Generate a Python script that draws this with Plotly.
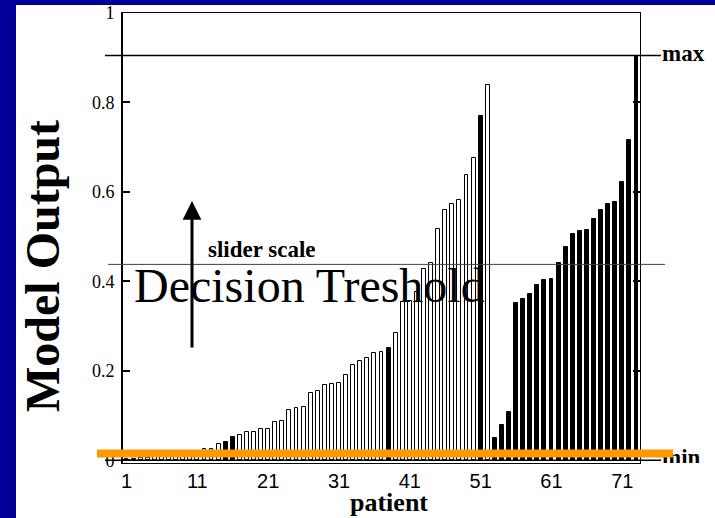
import plotly.graph_objects as go

# ---- data -------------------------------------------------------------
patient = list(range(1, 74))

model_output = [
    0.004, 0.004, 0.005, 0.006, 0.007, 0.008, 0.009, 0.010, 0.012, 0.014,
    0.018, 0.025, 0.026, 0.036, 0.041, 0.052, 0.057, 0.063, 0.064, 0.069,
    0.071, 0.086, 0.087, 0.112, 0.117, 0.119, 0.150, 0.156, 0.168, 0.171,
    0.172, 0.191, 0.212, 0.221, 0.229, 0.240, 0.242, 0.252, 0.285, 0.355,
    0.357, 0.376, 0.428, 0.442, 0.518, 0.559, 0.574, 0.581, 0.637, 0.676,
    0.769, 0.840, 0.051, 0.078, 0.109, 0.352, 0.360, 0.372, 0.391, 0.404,
    0.405, 0.442, 0.477, 0.507, 0.513, 0.516, 0.539, 0.559, 0.572, 0.578,
    0.623, 0.717, 0.905,
]

# 1 = solid black bar, 0 = open bar
solid = [
    0, 0, 0, 0, 0, 0, 0, 0, 0, 0,
    0, 0, 0, 0, 1, 1, 0, 0, 0, 0,
    0, 0, 0, 0, 0, 0, 0, 0, 0, 0,
    0, 0, 0, 0, 0, 0, 0, 1, 0, 0,
    0, 0, 0, 0, 0, 0, 0, 0, 0, 0,
    1, 0, 1, 1, 1, 1, 1, 1, 1, 1,
    1, 1, 1, 1, 1, 1, 1, 1, 1, 1,
    1, 1, 1,
]

x_tick_vals = [1, 11, 21, 31, 41, 51, 61, 71]
x_tick_text = ["1", "11", "21", "31", "41", "51", "61", "71"]
y_tick_vals = [0, 0.2, 0.4, 0.6, 0.8, 1]
y_tick_text = ["0", "0.2", "0.4", "0.6", "0.8", "1"]

decision_threshold = 0.438
slider_level = 0.015
max_level = max(model_output)
min_level = 0.0

# ---- page geometry ----------------------------------------------------
W, H = 715, 518
ML, MR, MT, MB = 123, 75, 13, 55
PW, PH = W - ML - MR, H - MT - MB
X_RANGE = [0.5, 73.5]
Y_RANGE = [-0.006, 1.0]

SERIF = "Liberation Serif"
SANS = "Liberation Sans"
BLUE = "#000099"
ORANGE = "#FF9900"


def px_x(px):
    return (px - ML) / PW


def px_y(py):
    return (H - MB - py) / PH


def data_x(px):
    return X_RANGE[0] + (px - ML) / PW * (X_RANGE[1] - X_RANGE[0])


def data_y(py):
    return Y_RANGE[0] + (H - MB - py) / PH * (Y_RANGE[1] - Y_RANGE[0])


open_x = [p for p, s in zip(patient, solid) if not s]
open_y = [v for v, s in zip(model_output, solid) if not s]
fill_x = [p for p, s in zip(patient, solid) if s]
fill_y = [v for v, s in zip(model_output, solid) if s]

fig = go.Figure()
fig.add_trace(go.Bar(
    x=open_x, y=open_y, width=0.55,
    marker=dict(color="white", line=dict(color="black", width=1)),
    showlegend=False, hoverinfo="x+y",
))
fig.add_trace(go.Bar(
    x=fill_x, y=fill_y, width=0.55,
    marker=dict(color="black", line=dict(color="black", width=1)),
    showlegend=False, hoverinfo="x+y",
))
# carrier for the right-hand frame axis
fig.add_trace(go.Scatter(x=[None], y=[None], yaxis="y2", showlegend=False))

label_font = dict(family=SERIF, size=23, color="black", weight="bold")


def end_label(text, py):
    """Invisible stub line whose end carries a bold text label."""
    return dict(type="line", xref="paper", yref="y",
                x0=px_x(661), x1=px_x(662), y0=data_y(py), y1=data_y(py),
                line=dict(color="rgba(0,0,0,0)", width=0), layer="above",
                label=dict(text=text, textposition="end", xanchor="left",
                           yanchor="middle", padding=3, font=label_font))


shapes = [
    # max / min reference lines
    dict(type="line", xref="paper", yref="y", x0=px_x(105), x1=px_x(661),
         y0=max_level, y1=max_level, line=dict(color="black", width=1.5),
         layer="above"),
    dict(type="line", xref="paper", yref="y", x0=px_x(105), x1=px_x(661),
         y0=min_level, y1=min_level, line=dict(color="black", width=1.5),
         layer="above"),
    end_label("max", 50),
    end_label("min", 454),
    # decision threshold
    dict(type="line", xref="paper", yref="y", x0=px_x(108), x1=px_x(665),
         y0=decision_threshold, y1=decision_threshold,
         line=dict(color="#404040", width=1), layer="above"),
    # slider position
    dict(type="line", xref="paper", yref="y", x0=px_x(97), x1=px_x(673),
         y0=slider_level, y1=slider_level,
         line=dict(color=ORANGE, width=8), layer="above"),
    # blue slide border
    dict(type="rect", xref="paper", yref="paper", x0=px_x(0), x1=px_x(16),
         y0=px_y(H), y1=px_y(0), fillcolor=BLUE, line=dict(width=0),
         layer="above"),
    dict(type="rect", xref="paper", yref="paper", x0=px_x(0), x1=px_x(W),
         y0=px_y(5), y1=px_y(0), fillcolor=BLUE, line=dict(width=0),
         layer="above"),
]

annotations = [
    dict(text="Decision Treshold", xref="paper", yref="paper",
         x=px_x(132), y=px_y(285), xanchor="left", yanchor="middle",
         showarrow=False, font=dict(family=SERIF, size=48, color="black")),
    dict(text="slider scale", xref="paper", yref="paper",
         x=px_x(206), y=px_y(250), xanchor="left", yanchor="middle",
         showarrow=False,
         font=dict(family=SERIF, size=23, color="black", weight="bold")),
    dict(text="", x=data_x(192), y=data_y(201), ax=data_x(192), ay=data_y(349),
         xref="x", yref="y", axref="x", ayref="y", showarrow=True,
         arrowhead=2, arrowwidth=3, arrowsize=1.25, arrowcolor="black",
         standoff=0),
    dict(text="Model Output", xref="paper", yref="paper",
         x=px_x(42), y=px_y(266), xanchor="center", yanchor="middle",
         textangle=-90, showarrow=False,
         font=dict(family=SERIF, size=48, color="black", weight="bold")),
    dict(text="patient", xref="paper", yref="paper",
         x=px_x(389), y=px_y(502), xanchor="center", yanchor="middle",
         showarrow=False,
         font=dict(family=SERIF, size=26, color="black", weight="bold")),
]

fig.update_layout(
    width=W, height=H,
    margin=dict(l=ML, r=MR, t=MT, b=MB, pad=0, autoexpand=False),
    paper_bgcolor="white", plot_bgcolor="white",
    bargap=0, barmode="overlay",
    xaxis=dict(
        range=X_RANGE, tickvals=x_tick_vals, ticktext=x_tick_text,
        ticks="", showgrid=False, zeroline=False, automargin=False,
        showline=True, linecolor="black", linewidth=1, mirror=True,
        tickfont=dict(family=SANS, size=20, color="black"),
    ),
    yaxis=dict(
        range=Y_RANGE, tickvals=y_tick_vals, ticktext=y_tick_text,
        ticks="inside", ticklen=7, tickwidth=1.5, tickcolor="black",
        ticklabelstandoff=3,
        showgrid=False, zeroline=False, automargin=False,
        showline=True, linecolor="black", linewidth=2,
        tickfont=dict(family=SERIF, size=18, color="black"),
    ),
    yaxis2=dict(
        range=Y_RANGE, overlaying="y", side="right", automargin=False,
        tickvals=y_tick_vals[1:-1], ticks="inside", ticklen=7, tickwidth=1.5,
        tickcolor="black", showticklabels=False, showgrid=False,
        zeroline=False, showline=True, linecolor="black", linewidth=1,
    ),
    shapes=shapes,
    annotations=annotations,
)

fig.write_html("out.html")
